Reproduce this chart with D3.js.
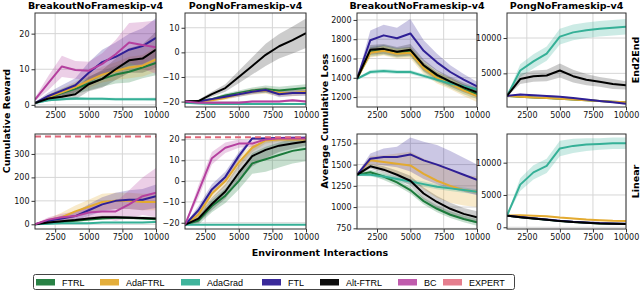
<!DOCTYPE html>
<html>
<head>
<meta charset="utf-8">
<script src="https://cdn.jsdelivr.net/npm/d3@7"></script>
<style>
  body { margin: 0; background: #fff; }
  svg { display: block; font-family: "DejaVu Sans", sans-serif; }
</style>
</head>
<body>
<div id="chart"></div>
<script>
// environment interactions (x values)
const steps = [1000, 2000, 3000, 4000, 5000, 6000, 7000, 8000, 9000, 10000]
const methods = ["FTRL", "AdaFTRL", "AdaGrad", "FTL", "Alt-FTRL", "BC", "EXPERT"]
const colors = ["#1c7a3b", "#e3aa30", "#35b097", "#2f1f95", "#000000", "#b5409f", "#e0677a"]
const xTicks = [2500, 5000, 7500, 10000]
const expertBreakout = 374
const expertPong = 21

// Breakout, End2End, cumulative reward
const brkE2eReward = {
  "FTRL":     [0.5, 2.0, 3.3, 4.5, 6.0, 7.3, 8.5, 9.3, 10.5, 11.8],
  "AdaFTRL":  [0.5, 2.2, 3.5, 5.0, 6.8, 8.5, 9.5, 10.5, 11.0, 12.8],
  "AdaGrad":  [0.5, 1.3, 1.6, 1.8, 1.7, 1.7, 1.6, 1.6, 1.6, 1.6],
  "FTL":      [0.5, 2.5, 4.0, 5.5, 9.0, 12.0, 13.5, 15.5, 16.5, 18.8],
  "Alt-FTRL": [0.5, 1.8, 2.3, 3.0, 5.8, 7.3, 10.0, 12.5, 13.0, 15.5],
  "BC":       [1.5, 6.2, 10.8, 9.8, 9.6, 11.5, 14.2, 17.5, 16.8, 16.2]
}
const brkE2eRewardSd = {
  "FTRL":     [0.2, 0.8, 1.2, 1.5, 2.0, 2.2, 2.5, 3.0, 3.0, 3.5],
  "AdaFTRL":  [0.2, 0.8, 1.2, 1.5, 2.0, 2.2, 2.5, 3.0, 3.0, 3.5],
  "AdaGrad":  [0.1, 0.3, 0.4, 0.4, 0.4, 0.4, 0.4, 0.4, 0.4, 0.5],
  "FTL":      [0.3, 1.0, 1.5, 2.0, 3.0, 3.5, 4.0, 4.5, 5.0, 5.5],
  "Alt-FTRL": [0.2, 0.8, 1.0, 1.5, 2.0, 2.5, 3.0, 3.5, 4.0, 5.0],
  "BC":       [0.5, 2.0, 3.0, 2.5, 2.5, 3.0, 4.0, 5.5, 6.5, 7.5]
}

// Pong, End2End, cumulative reward
const pongE2eReward = {
  "FTRL":     [-20, -19.8, -19, -17.5, -16.5, -15.5, -15, -15.5, -15, -14.5],
  "AdaFTRL":  [-20, -20, -19.5, -18.5, -17, -16, -15.5, -16.5, -16.5, -16],
  "AdaGrad":  [-20.5, -20.8, -21, -21, -21, -21, -21, -21, -21, -21],
  "FTL":      [-20, -20, -19, -18, -17, -16, -15.3, -17, -16.5, -16.5],
  "Alt-FTRL": [-20, -19.8, -17, -14.5, -10, -5.5, -1, 2.5, 5, 7.8],
  "BC":       [-20, -20.5, -20.5, -20.5, -20.5, -20, -20, -20, -19.5, -20]
}
const pongE2eRewardSd = {
  "FTRL":     [0.2, 0.3, 0.5, 0.8, 1.0, 1.2, 1.5, 1.5, 1.5, 1.5],
  "AdaFTRL":  [0.2, 0.3, 0.5, 0.8, 1.0, 1.2, 1.3, 1.3, 1.3, 1.3],
  "AdaGrad":  [0.2, 0.2, 0.2, 0.2, 0.2, 0.2, 0.2, 0.2, 0.2, 0.2],
  "FTL":      [0.2, 0.3, 0.5, 0.8, 1.0, 1.0, 1.0, 1.2, 1.2, 1.2],
  "Alt-FTRL": [0.2, 0.5, 1.0, 1.5, 2.5, 3.5, 4.5, 5.0, 5.5, 6.0],
  "BC":       [0.3, 0.5, 0.5, 0.5, 0.5, 0.5, 0.5, 0.5, 0.5, 0.5]
}

// Breakout, End2End, average cumulative loss
const brkE2eLoss = {
  "FTRL":     [1390, 1670, 1690, 1660, 1670, 1510, 1410, 1345, 1280, 1230],
  "AdaFTRL":  [1390, 1660, 1680, 1650, 1660, 1500, 1400, 1340, 1270, 1210],
  "AdaGrad":  [1390, 1460, 1470, 1460, 1460, 1420, 1380, 1340, 1310, 1280],
  "FTL":      [1390, 1790, 1840, 1810, 1860, 1680, 1560, 1460, 1380, 1310],
  "Alt-FTRL": [1390, 1690, 1700, 1670, 1690, 1530, 1430, 1360, 1300, 1250]
}
const brkE2eLossSd = {
  "FTRL":     [10, 50, 50, 50, 50, 50, 50, 50, 50, 50],
  "AdaFTRL":  [10, 50, 50, 50, 60, 60, 60, 60, 60, 60],
  "AdaGrad":  [10, 20, 20, 20, 20, 20, 20, 20, 20, 20],
  "FTL":      [10, 100, 110, 110, 150, 110, 90, 70, 60, 50],
  "Alt-FTRL": [10, 50, 50, 50, 60, 60, 50, 50, 50, 50]
}

// Pong, End2End, average cumulative loss
const pongE2eLoss = {
  "FTRL":     [1800, 1700, 1600, 1500, 1400, 1300, 1200, 1100, 1000, 900],
  "AdaFTRL":  [1800, 1700, 1600, 1500, 1400, 1300, 1200, 1100, 1000, 900],
  "AdaGrad":  [1800, 5400, 6700, 7800, 10200, 10800, 11100, 11300, 11450, 11600],
  "FTL":      [1800, 2000, 1900, 1800, 1700, 1500, 1300, 1100, 900, 700],
  "Alt-FTRL": [1800, 4200, 4600, 4700, 5400, 4600, 4100, 3800, 3500, 3300]
}
const pongE2eLossSd = {
  "FTRL":     [50, 100, 100, 100, 100, 100, 100, 100, 100, 100],
  "AdaFTRL":  [50, 100, 100, 100, 100, 100, 100, 100, 100, 100],
  "AdaGrad":  [100, 900, 1000, 1000, 1100, 1100, 1100, 1100, 1100, 1100],
  "FTL":      [50, 100, 100, 100, 100, 100, 100, 100, 100, 100],
  "Alt-FTRL": [100, 700, 800, 800, 1000, 900, 800, 700, 700, 600]
}

// Breakout, Linear, cumulative reward
const brkLinReward = {
  "FTRL":     [0, 5, 10, 15, 20, 25, 28, 28, 25, 22],
  "AdaFTRL":  [0, 15, 30, 55, 75, 95, 100, 100, 95, 95],
  "AdaGrad":  [0, 2, 5, 5, 5, 8, 8, 8, 8, 10],
  "FTL":      [0, 15, 25, 35, 60, 85, 100, 105, 105, 120],
  "Alt-FTRL": [0, 8, 13, 18, 25, 30, 30, 28, 27, 25],
  "BC":       [0, 20, 30, 35, 50, 55, 55, 85, 120, 135]
}
const brkLinRewardSd = {
  "FTRL":     [1, 3, 4, 5, 5, 5, 5, 5, 5, 5],
  "AdaFTRL":  [2, 10, 20, 25, 30, 35, 35, 35, 35, 35],
  "AdaGrad":  [1, 2, 3, 3, 3, 3, 3, 3, 3, 3],
  "FTL":      [2, 8, 12, 18, 25, 30, 35, 40, 45, 50],
  "Alt-FTRL": [1, 3, 5, 6, 6, 6, 6, 6, 6, 6],
  "BC":       [2, 10, 15, 20, 25, 30, 40, 60, 80, 105]
}

// Pong, Linear, cumulative reward
const pongLinReward = {
  "FTRL":     [-21, -19, -12, -7, 0, 8.5, 10.5, 12.5, 14.5, 15.5],
  "AdaFTRL":  [-21, -16, -6, 0, 9, 16, 19.5, 20, 20, 20],
  "AdaGrad":  [-21, -21, -21, -21, -21, -21, -21, -21, -21, -21],
  "FTL":      [-21, -14, -4, 2, 12, 20.5, 20.5, 20.7, 20.8, 20.8],
  "Alt-FTRL": [-21, -18, -11, -5, 4, 12, 15, 17, 18, 19],
  "BC":       [-21, -5, 11, 16, 18, 18, 20, 20.5, 20.5, 20.5]
}
const pongLinRewardSd = {
  "FTRL":     [0.3, 2, 3, 3.5, 4, 5, 6, 6, 6, 6],
  "AdaFTRL":  [0.3, 2, 2.5, 2.5, 2.5, 2, 1.5, 1, 1, 1],
  "AdaGrad":  [0.1, 0.1, 0.1, 0.1, 0.1, 0.1, 0.1, 0.1, 0.1, 0.1],
  "FTL":      [0.3, 2, 2.5, 2.5, 2, 0.5, 0.5, 0.5, 0.5, 0.5],
  "Alt-FTRL": [0.3, 2, 3, 3.5, 4, 5, 4, 3, 2.5, 2],
  "BC":       [0.3, 3, 3, 2.5, 2, 1.5, 1, 0.5, 0.5, 0.5]
}

// Breakout, Linear, average cumulative loss
const brkLinLoss = {
  "FTRL":     [1380, 1410, 1360, 1290, 1200, 1070, 980, 910, 860, 820],
  "AdaFTRL":  [1380, 1550, 1530, 1510, 1490, 1390, 1310, 1250, 1200, 1180],
  "AdaGrad":  [1380, 1380, 1360, 1330, 1300, 1270, 1240, 1220, 1200, 1180],
  "FTL":      [1380, 1570, 1590, 1590, 1620, 1550, 1500, 1440, 1380, 1320],
  "Alt-FTRL": [1380, 1480, 1440, 1380, 1310, 1160, 1060, 980, 920, 880]
}
const brkLinLossSd = {
  "FTRL":     [10, 30, 40, 40, 40, 40, 40, 40, 40, 40],
  "AdaFTRL":  [10, 50, 80, 120, 160, 180, 200, 200, 180, 180],
  "AdaGrad":  [10, 20, 30, 30, 30, 30, 30, 30, 30, 30],
  "FTL":      [10, 60, 100, 120, 200, 220, 230, 220, 200, 180],
  "Alt-FTRL": [10, 30, 40, 50, 60, 70, 70, 70, 70, 70]
}

// Pong, Linear, average cumulative loss
const pongLinLoss = {
  "FTRL":     [1800, 1550, 1350, 1150, 950, 800, 700, 600, 550, 500],
  "AdaFTRL":  [1800, 1850, 1800, 1700, 1500, 1350, 1200, 1100, 1000, 950],
  "AdaGrad":  [1800, 6600, 8500, 9500, 12200, 12600, 12800, 12900, 13000, 13000],
  "FTL":      [1800, 1600, 1400, 1200, 1000, 850, 750, 650, 600, 550],
  "Alt-FTRL": [1800, 1550, 1350, 1150, 950, 800, 700, 600, 550, 500]
}
const pongLinLossSd = {
  "FTRL":     [50, 100, 100, 100, 100, 100, 100, 100, 100, 100],
  "AdaFTRL":  [50, 100, 100, 100, 100, 100, 100, 100, 100, 100],
  "AdaGrad":  [100, 1000, 1100, 1100, 1200, 1100, 1000, 900, 900, 900],
  "FTL":      [50, 100, 100, 100, 100, 100, 100, 100, 100, 100],
  "Alt-FTRL": [50, 100, 100, 100, 100, 100, 100, 100, 100, 100]
}

const W = 640, H = 295
const cols = [[35, 156], [185, 306], [357, 477], [507, 626]]
const rows = [[13, 107], [134, 229]]

const panels = [
  { r: 0, c: 0, mean: brkE2eReward, sd: brkE2eRewardSd, yDom: [-0.6, 25.8], yTicks: [0, 10, 20], title: "BreakoutNoFrameskip-v4" },
  { r: 0, c: 1, mean: pongE2eReward, sd: pongE2eRewardSd, yDom: [-22.2, 16], yTicks: [-20, -10, 0, 10], title: "PongNoFrameskip-v4" },
  { r: 0, c: 2, mean: brkE2eLoss, sd: brkE2eLossSd, yDom: [1097, 2072], yTicks: [1200, 1400, 1600, 1800, 2000], title: "BreakoutNoFrameskip-v4" },
  { r: 0, c: 3, mean: pongE2eLoss, sd: pongE2eLossSd, yDom: [240, 13540], yTicks: [5000, 10000], title: "PongNoFrameskip-v4" },
  { r: 1, c: 0, mean: brkLinReward, sd: brkLinRewardSd, yDom: [-20, 385], yTicks: [0, 100, 200, 300], expert: expertBreakout },
  { r: 1, c: 1, mean: pongLinReward, sd: pongLinRewardSd, yDom: [-23, 22.6], yTicks: [-20, -10, 0, 10, 20], expert: expertPong },
  { r: 1, c: 2, mean: brkLinLoss, sd: brkLinLossSd, yDom: [742, 1860], yTicks: [750, 1000, 1250, 1500, 1750] },
  { r: 1, c: 3, mean: pongLinLoss, sd: pongLinLossSd, yDom: [-270, 14440], yTicks: [0, 5000, 10000] }
]

const color = d3.scaleOrdinal().domain(methods).range(colors)
const fmt = d3.format("d")

const svg = d3.select("#chart").append("svg")
  .attr("width", W)
  .attr("height", H)

panels.forEach(function (p, pi) {
  let [x0, x1] = cols[p.c]
  let [y0, y1] = rows[p.r]
  let x = d3.scaleLinear().domain([1000, 10000]).range([x0, x1])
  let y = d3.scaleLinear().domain(p.yDom).range([y1, y0])

  let g = svg.append("g")

  // grid
  g.selectAll(".gx").data(xTicks).enter().append("line")
    .attr("x1", d => x(d)).attr("x2", d => x(d))
    .attr("y1", y0).attr("y2", y1)
    .style("stroke", "#d6d6d6").style("stroke-width", 1)
  g.selectAll(".gy").data(p.yTicks).enter().append("line")
    .attr("x1", x0).attr("x2", x1)
    .attr("y1", d => y(d)).attr("y2", d => y(d))
    .style("stroke", "#d6d6d6").style("stroke-width", 1)

  svg.append("clipPath").attr("id", "clip" + pi)
    .append("rect").attr("x", x0).attr("y", y0).attr("width", x1 - x0).attr("height", y1 - y0)

  let plot = g.append("g").attr("clip-path", "url(#clip" + pi + ")")
  let names = Object.keys(p.mean)

  // shaded bands first, then the mean lines
  names.forEach(function (m) {
    let band = d3.area()
      .x((d, i) => x(steps[i]))
      .y0((d, i) => y(d - p.sd[m][i]))
      .y1((d, i) => y(d + p.sd[m][i]))
    plot.append("path")
      .datum(p.mean[m])
      .attr("d", band)
      .style("fill", color(m))
      .style("fill-opacity", m === "Alt-FTRL" ? 0.2 : 0.25)
      .style("stroke", "none")
  })
  names.forEach(function (m) {
    let line = d3.line()
      .x((d, i) => x(steps[i]))
      .y(d => y(d))
    plot.append("path")
      .datum(p.mean[m])
      .attr("d", line)
      .style("fill", "none")
      .style("stroke", color(m))
      .style("stroke-width", 2)
      .style("stroke-linejoin", "round")
  })
  if (p.expert !== undefined) {
    plot.append("line")
      .attr("x1", x0).attr("x2", x1)
      .attr("y1", y(p.expert)).attr("y2", y(p.expert))
      .style("stroke", color("EXPERT"))
      .style("stroke-width", 2)
      .style("stroke-dasharray", "6,4")
  }

  // axes
  let xAxis = d3.axisBottom(x).tickValues(xTicks).tickFormat(fmt).tickSize(3.5).tickPadding(2)
  let yAxis = d3.axisLeft(y).tickValues(p.yTicks).tickFormat(fmt).tickSize(3.5).tickPadding(2)
  let ax = g.append("g").attr("transform", "translate(0," + y1 + ")").call(xAxis)
  let ay = g.append("g").attr("transform", "translate(" + x0 + ",0)").call(yAxis)
  ;[ax, ay].forEach(function (a) {
    a.select(".domain").remove()
    a.selectAll("line").style("stroke", "#333")
    a.selectAll("text")
      .style("font-family", "DejaVu Sans, sans-serif")
      .style("font-size", "8px")
      .style("fill", "#111")
  })

  g.append("rect")
    .attr("x", x0).attr("y", y0)
    .attr("width", x1 - x0).attr("height", y1 - y0)
    .style("fill", "none")
    .style("stroke", "#333")
    .style("stroke-width", 1)

  if (p.title) {
    svg.append("text")
      .attr("x", (x0 + x1) / 2)
      .attr("y", 9)
      .attr("text-anchor", "middle")
      .style("font-weight", "bold")
      .style("font-size", "9.5px")
      .text(p.title)
  }
})

// shared axis labels
svg.append("text")
  .attr("transform", "translate(9.5," + (rows[0][0] + rows[1][1]) / 2 + ") rotate(-90)")
  .attr("text-anchor", "middle")
  .style("font-weight", "bold").style("font-size", "9.5px")
  .text("Cumulative Reward")
svg.append("text")
  .attr("transform", "translate(328," + (rows[0][0] + rows[1][1]) / 2 + ") rotate(-90)")
  .attr("text-anchor", "middle")
  .style("font-weight", "bold").style("font-size", "9.5px")
  .text("Average Cumulative Loss")
svg.append("text")
  .attr("x", 320).attr("y", 256)
  .attr("text-anchor", "middle")
  .style("font-weight", "bold").style("font-size", "9.5px")
  .text("Environment Interactions")
;[["End2End", rows[0]], ["Linear", rows[1]]].forEach(function (d) {
  svg.append("text")
    .attr("transform", "translate(639," + (d[1][0] + d[1][1]) / 2 + ") rotate(-90)")
    .attr("text-anchor", "middle")
    .style("font-weight", "bold").style("font-size", "9.5px")
    .text(d[0])
})

// legend
let lg = svg.append("g")
lg.append("rect")
  .attr("x", 33.5).attr("y", 274.5).attr("width", 481).attr("height", 15)
  .attr("rx", 2)
  .style("fill", "#fff").style("stroke", "#444").style("stroke-width", 1)
const legendX = [36, 100, 181, 262, 320, 398, 443]
methods.forEach(function (m, i) {
  lg.append("rect")
    .attr("x", legendX[i]).attr("y", 279)
    .attr("width", 19).attr("height", 6.5)
    .style("fill", color(m))
    .style("fill-opacity", m === "EXPERT" || m === "BC" ? 0.85 : 0.95)
  lg.append("text")
    .attr("x", legendX[i] + 26).attr("y", 285.5)
    .style("font-family", "Liberation Sans, Arial, sans-serif")
    .style("font-size", "9px")
    .text(m)
})
</script>
</body>
</html>
